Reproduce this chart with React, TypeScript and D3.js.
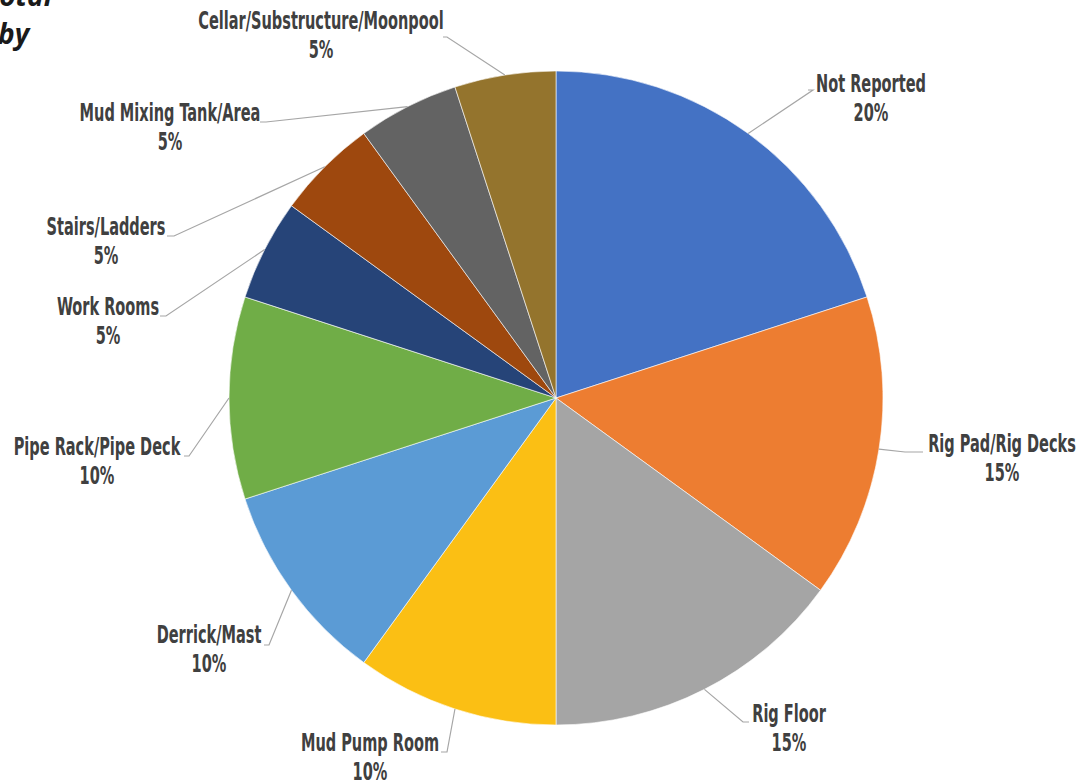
import React from "react";
import * as d3 from "d3";

const categories = [
  "Not Reported",
  "Rig Pad/Rig Decks",
  "Rig Floor",
  "Mud Pump Room",
  "Derrick/Mast",
  "Pipe Rack/Pipe Deck",
  "Work Rooms",
  "Stairs/Ladders",
  "Mud Mixing Tank/Area",
  "Cellar/Substructure/Moonpool",
];
const values = [20, 15, 15, 10, 10, 10, 5, 5, 5, 5];
const colors = [
  "#4472C4",
  "#ED7D31",
  "#A5A5A5",
  "#FBBF14",
  "#5B9BD5",
  "#70AD47",
  "#264478",
  "#9E480E",
  "#636363",
  "#94742D",
];

// label layout: label centre x, name baseline y, elbow x, elbow y (text side)
const labelLayout = [
  { lx: 871, ly: 92, ex: 808, ey: 90, bx: 813 },
  { lx: 1002, ly: 452, ex: 923, ey: 452, bx: 905 },
  { lx: 789, ly: 722, ex: 749, ey: 722, bx: 743 },
  { lx: 370, ly: 751, ex: 441, ey: 752, bx: 447 },
  { lx: 209, ly: 643, ex: 264, ey: 645, bx: 269 },
  { lx: 97, ly: 455, ex: 184, ey: 456, bx: 189 },
  { lx: 108, ly: 315, ex: 160, ey: 316, bx: 166 },
  { lx: 106, ly: 235, ex: 167, ey: 236, bx: 174 },
  { lx: 170, ly: 121, ex: 260, ey: 122, bx: 266 },
  { lx: 321, ly: 29, ex: 443, ey: 37, bx: 447 },
];

const W = 1092;
const H = 784;
const cx = 556;
const cy = 398;
const R = 327;

const FONT = "'Liberation Sans Narrow', 'DejaVu Sans Condensed', 'Roboto', sans-serif";

export default function App() {
  const total = d3.sum(values);
  const pie = d3
    .pie<number>()
    .sort(null)
    .value((d) => d)
    .startAngle(0)
    .endAngle(2 * Math.PI);
  const arcs = pie(values);
  const arc = d3.arc<d3.PieArcDatum<number>>().innerRadius(0).outerRadius(R);
  const fmt = d3.format(".0%");

  return (
    <svg
      width={W}
      height={H}
      style={{ position: "fixed", left: 0, top: 0, background: "#fff" }}
    >
      <rect width={W} height={H} fill="#fff" />
      <g
        fontFamily="'Open Sans', 'Noto Sans', sans-serif"
        fontStyle="italic"
        fontWeight={700}
        fontSize={28}
        fill="#1a1a1a"
      >
        <text x={52} y={6} textAnchor="end">
          Total
        </text>
        <text x={-2} y={44}>
          by
        </text>
      </g>
      <g transform={`translate(${cx},${cy})`}>
        {arcs.map((a, i) => (
          <path key={i} d={arc(a) || ""} fill={colors[i]} stroke="#fff" strokeWidth={0.6} />
        ))}
      </g>
      <g fill="none" stroke="#A6A6A6" strokeWidth={1.2}>
        {arcs.map((a, i) => {
          const mid = (a.startAngle + a.endAngle) / 2;
          const px = cx + R * Math.sin(mid);
          const py = cy - R * Math.cos(mid);
          const L = labelLayout[i];
          return (
            <polyline
              key={i}
              points={`${px},${py} ${L.bx},${L.ey} ${L.ex},${L.ey}`}
            />
          );
        })}
      </g>
      <g fontFamily={FONT} fontWeight={700} fontSize={19} fill="#404040" textAnchor="middle">
        {arcs.map((a, i) => {
          const L = labelLayout[i];
          return (
            <g key={i}>
              <text transform={`translate(${L.lx},${L.ly}) scale(0.85,1.3)`}>{categories[i]}</text>
              <text transform={`translate(${L.lx},${L.ly + 29}) scale(0.85,1.3)`}>
                {fmt(values[i] / total)}
              </text>
            </g>
          );
        })}
      </g>
    </svg>
  );
}
